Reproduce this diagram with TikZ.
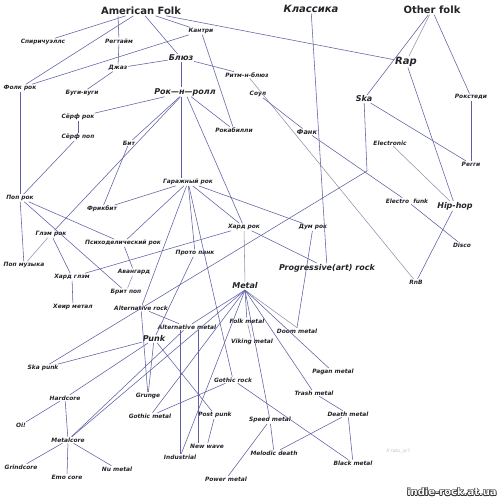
\documentclass[tikz,border=0pt]{standalone}
\usepackage{fontspec}
\setmainfont{DejaVu Sans}
\definecolor{lc}{RGB}{95,95,165}
\definecolor{lc2}{RGB}{145,145,175}
\definecolor{tc}{RGB}{35,35,40}
\begin{document}
\begin{tikzpicture}[x=1pt,y=-1pt,
  lbl/.style={font=\fontsize{5.9}{6}\selectfont\bfseries\itshape,text=tc,inner sep=1pt,outer sep=0pt},
  med/.style={font=\fontsize{8}{8}\selectfont\bfseries\itshape,text=tc,inner sep=1pt,outer sep=0pt},
  big/.style={font=\fontsize{10}{11}\selectfont\bfseries\itshape,text=tc,inner sep=1pt,outer sep=0pt},
  bigu/.style={font=\fontsize{10}{11}\selectfont\bfseries,text=tc,inner sep=1pt,outer sep=0pt},
  ln/.style={draw=lc,line width=0.55pt},
  ln2/.style={draw=lc2,line width=0.55pt}]
\useasboundingbox[fill=white] (0,0) rectangle (500,500);
% nodes
\node[bigu] (af) at (141,11) {American Folk};
\node[big] (klass) at (311,9) {Классика};
\node[bigu] (otherfolk) at (432,10) {Other folk};
\node[big] (rap) at (406,62) {Rap};
\node[lbl] (spir) at (43,42) {Спиричуэллс};
\node[lbl] (regt) at (119,41) {Регтайм};
\node[lbl] (kantri) at (201,31) {Кантри};
\node[lbl] (dzhaz) at (118,68) {Джаз};
\node[med] (blues) at (181,58) {Блюз};
\node[lbl] (folkrock) at (20,88) {Фолк рок};
\node[lbl] (boogie) at (82,93) {Буги-вуги};
\node[lbl] (rnblues) at (247,75) {Ритм-н-блюз};
\node[med] (rnr) at (185,92) {Рок—н—ролл};
\node[lbl] (soul) at (258,94) {Соул};
\node[med] (ska) at (364,99) {Ska};
\node[lbl] (rocksteady) at (471,97) {Рокстеди};
\node[lbl] (surfrock) at (78,117) {Сёрф рок};
\node[lbl] (surfpop) at (78,137) {Сёрф поп};
\node[lbl] (beat) at (129,143) {Бит};
\node[lbl] (rockabilly) at (234,130) {Рокабилли};
\node[lbl,font=\fontsize{6.6}{7}\selectfont\bfseries\itshape] (funk) at (307,132) {Фанк};
\node[lbl] (electronic) at (390,143) {Electronic};
\node[lbl] (reggae) at (471,164) {Регги};
\node[lbl] (poprock) at (20,198) {Поп рок};
\node[lbl] (garage) at (188,182) {Гаражный рок};
\node[lbl] (freakbeat) at (102,209) {Фрикбит};
\node[lbl] (electrofunk) at (407,201) {Electro\ \ funk};
\node[med] (hiphop) at (455,206) {Hip-hop};
\node[lbl] (glam) at (51,234) {Глэм рок};
\node[lbl] (psych) at (123,243) {Психоделический рок};
\node[lbl] (hardrock) at (244,227) {Хард рок};
\node[lbl] (doomrock) at (313,227) {Дум рок};
\node[lbl] (disco) at (462,245) {Disco};
\node[lbl] (popmusic) at (24,265) {Поп музыка};
\node[lbl] (hardglam) at (72,277) {Хард глэм};
\node[lbl] (avant) at (134,272) {Авангард};
\node[lbl] (proto) at (195,253) {Прото панк};
\node[med] (prog) at (327,268) {Progressive(art) rock};
\node[lbl] (britpop) at (126,292) {Брит поп};
\node[lbl] (rnb) at (416,282) {RnB};
\node[lbl] (hair) at (73,307) {Хеир метал};
\node[lbl] (altrock) at (141,308) {Alternative rock};
\node[med] (metal) at (245,286) {Metal};
\node[lbl] (altmetal) at (187,327) {Alternative metal};
\node[lbl] (folkmetal) at (247,321) {Folk metal};
\node[med] (punk) at (154,339) {Punk};
\node[lbl] (viking) at (252,342) {Viking metal};
\node[lbl] (doommetal) at (297,331) {Doom metal};
\node[lbl] (skapunk) at (43,368) {Ska punk};
\node[lbl] (pagan) at (333,372) {Pagan metal};
\node[lbl] (hardcore) at (65,398) {Hardcore};
\node[lbl] (gothrock) at (233,380) {Gothic rock};
\node[lbl] (trash) at (314,393) {Trash metal};
\node[lbl] (grunge) at (148,396) {Grunge};
\node[lbl] (gothmetal) at (150,416) {Gothic metal};
\node[lbl] (postpunk) at (215,415) {Post punk};
\node[lbl] (speed) at (270,420) {Speed metal};
\node[lbl] (death) at (348,414) {Death metal};
\node[lbl] (oi) at (21,425) {Oi!};
\node[lbl] (metalcore) at (68,440) {Metalcore};
\node[lbl] (newwave) at (207,446) {New wave};
\node[lbl] (melodic) at (274,453) {Melodic death};
\node[lbl] (industrial) at (180,457) {Industrial};
\node[lbl] (black) at (353,463) {Black metal};
\node[lbl] (grind) at (21,467) {Grindcore};
\node[lbl] (emo) at (67,477) {Emo core};
\node[lbl] (nu) at (117,469) {Nu metal};
\node[lbl] (power) at (226,479) {Power metal};
\node[font=\fontsize{4.5}{5}\selectfont\itshape,text=black!25] (wm) at (398,451) {fr tatu\_sc?};
\coordinate (skaj) at (367,171);
% connectors
\draw[ln] (af) -- (spir);
\draw[ln] (af) -- (folkrock);
\draw[ln] (af.south west) ++(18,0) coordinate (afr) (afr) -- (regt);
\draw[ln] (regt) -- (dzhaz);
\draw[ln] (af) -- (kantri);
\draw[ln] (af) -- (blues);
\draw[ln] (af) -- (rap);
\draw[ln] (folkrock) -- (kantri);
\draw[ln] (folkrock) -- (poprock);
\draw[ln] (dzhaz) -- (blues);
\draw[ln] (boogie) -- (dzhaz);
\draw[ln] (blues) -- (blues |- rnr.north);
\draw[ln] (blues |- rnr.south) -- (blues |- garage.north);
\draw[ln] (blues) -- (rnblues);
\draw[ln] (kantri) -- (rockabilly);
\draw[ln] (rnr) -- (rockabilly);
\draw[ln] (rnr) -- (hardrock);
\draw[ln] (rnr) -- (surfrock);
\draw[ln] (surfrock) -- (surfpop);
\draw[ln] (surfpop) -- (poprock);
\draw[ln] (rnr) -- (glam);
\draw[ln2] (glam) -- (popmusic);
\draw[ln] (rnr) -- (beat);
\draw[ln] (beat) -- (freakbeat);
\draw[ln] (poprock) -- (popmusic);
\draw[ln] (poprock) -- (psych);
\draw[ln] (poprock) -- (britpop);
\draw[ln] (psych) -- (avant);
\draw[ln2] (britpop) -- (avant);
\draw[ln] (freakbeat) -- (garage);
\draw[ln] (psych) -- (garage);
\draw[ln] (garage) -- (altrock);
\draw[ln] (garage) -- (proto);
\draw[ln] (garage) -- (hardrock);
\draw[ln] (garage) -- (doomrock);
\draw[ln] (garage) -- (gothrock);
\draw[ln] (glam) -- (hardglam);
\draw[ln] (hardglam) -- (hair);
\draw[ln] (hardglam) -- (hardrock);
\draw[ln2] (hardrock) -- (metal);
\draw[ln] (hardrock) -- (prog);
\draw[ln] (doomrock) -- (doommetal.north);
\draw[ln2] (rnblues) -- (rnb);
\draw[ln] (soul) -- (funk);
\draw[ln] (funk) -- (electrofunk);
\draw[ln] (ska) -- (skaj);
\draw[ln] (skaj) -- (skapunk);
\draw[ln] (klass) -- (prog);
\draw[ln] (otherfolk) -- (ska);
\draw[ln2] (otherfolk) -- (rap);
\draw[ln] (otherfolk) -- (rocksteady);
\draw[ln] (rocksteady) -- (reggae);
\draw[ln] (ska) -- (reggae);
\draw[ln] (rap) -- (hiphop);
\draw[ln2] (electronic) -- (hiphop);
\draw[ln] (hiphop) -- (rnb);
\draw[ln] (electrofunk) -- (disco);
\draw[ln] (proto) -- (punk);
\draw[ln] (altrock) -- (grunge);
\draw[ln] (altrock) -- (altmetal);
\draw[ln] (punk) -- (skapunk);
\draw[ln] (punk) -- (hardcore);
\draw[ln] (punk) -- (grunge);
\draw[ln] (punk) -- (postpunk);
\draw[ln] (metal.south) -- (altmetal);
\draw[ln] (metal.south) -- (folkmetal);
\draw[ln2] (folkmetal) -- (viking);
\draw[ln2] (metal.south) -- (doommetal.north);
\draw[ln] (metal.south) -- (pagan);
\draw[ln] (metal.south) -- (trash);
\draw[ln] (metal.south) -- (speed);
\draw[ln] (metal.south) -- (gothmetal);
\draw[ln] (metal.south) -- (industrial);
\draw[ln] (metal.south) -- (metalcore);
\draw[ln] (industrial.north |- altmetal.south) -- (industrial.north);
\draw[ln] (newwave.north -| altmetal.south) ++(11,0) coordinate (nwt) (nwt |- altmetal.south) -- (nwt);
\draw[ln] (metalcore) -- (altmetal);
\draw[ln] (gothrock) -- (gothmetal);
\draw[ln] (gothrock) -- (black);
\draw[ln] (postpunk) -- (newwave);
\draw[ln] (speed) -- (power);
\draw[ln] (speed) -- (melodic);
\draw[ln] (melodic) -- (death);
\draw[ln] (trash) -- (death);
\draw[ln] (death) -- (black);
\draw[ln] (hardcore) -- (oi);
\draw[ln] (hardcore) -- (metalcore);
\draw[ln] (metalcore) -- (grind);
\draw[ln] (metalcore) -- (emo);
\draw[ln] (metalcore) -- (nu);
% site watermark (outlined text)
\foreach \dx/\dy in {-0.6/0,0.6/0,0/-0.6,0/0.6,-0.45/-0.45,0.45/0.45,-0.45/0.45,0.45/-0.45}
  \node[font=\fontsize{10}{11}\selectfont\bfseries,text=black!80,inner sep=0pt] at (452+\dx,492+\dy) {indie-rock.at.ua};
\node[font=\fontsize{10}{11}\selectfont\bfseries,text=white,inner sep=0pt] (site) at (452,492) {indie-rock.at.ua};
\end{tikzpicture}
\end{document}
